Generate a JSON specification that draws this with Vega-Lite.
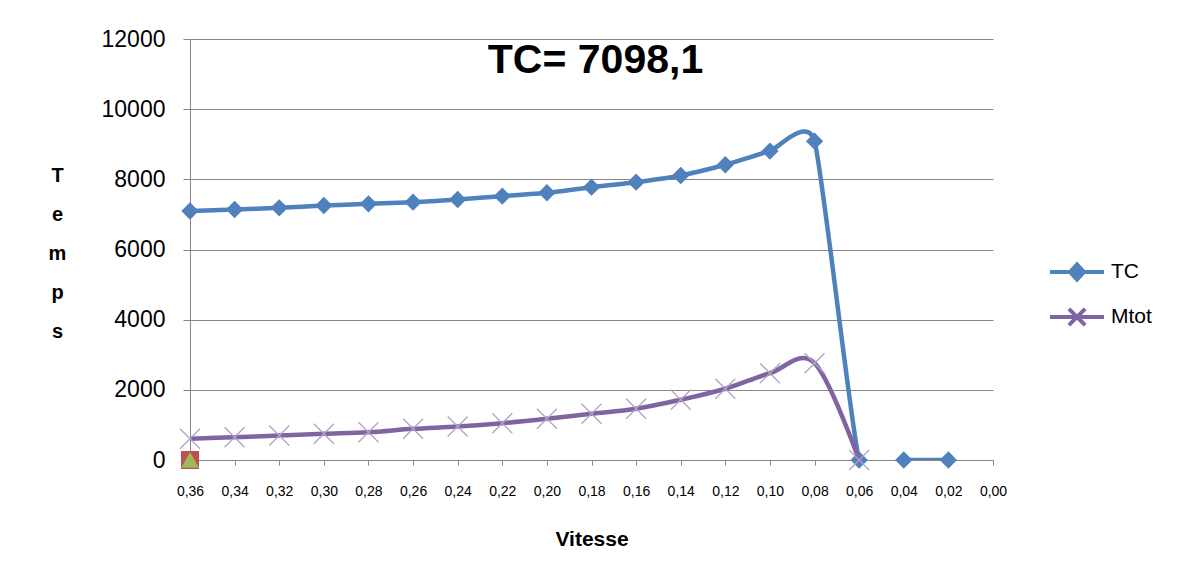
{
  "$schema": "https://vega.github.io/schema/vega-lite/v6.json",
  "width": 803,
  "height": 421,
  "autosize": {"type": "none"},
  "padding": {"left": 190, "top": 39, "right": 188, "bottom": 120},
  "background": "white",
  "config": {
    "view": {"stroke": null},
    "font": "Liberation Sans"
  },
  "title": {
    "text": "TC= 7098,1",
    "fontSize": 41,
    "fontWeight": "bold",
    "color": "#000000",
    "anchor": "middle",
    "frame": "group",
    "baseline": "alphabetic",
    "offset": -86,
    "dx": 4
  },
  "datasets": {
    "main": [
      {"v": "0,36", "s": "TC", "y": 7098.1},
      {"v": "0,34", "s": "TC", "y": 7141},
      {"v": "0,32", "s": "TC", "y": 7188},
      {"v": "0,30", "s": "TC", "y": 7254},
      {"v": "0,28", "s": "TC", "y": 7302},
      {"v": "0,26", "s": "TC", "y": 7348},
      {"v": "0,24", "s": "TC", "y": 7425},
      {"v": "0,22", "s": "TC", "y": 7520},
      {"v": "0,20", "s": "TC", "y": 7617},
      {"v": "0,18", "s": "TC", "y": 7777},
      {"v": "0,16", "s": "TC", "y": 7919},
      {"v": "0,14", "s": "TC", "y": 8110},
      {"v": "0,12", "s": "TC", "y": 8415},
      {"v": "0,10", "s": "TC", "y": 8805},
      {"v": "0,08", "s": "TC", "y": 9088},
      {"v": "0,06", "s": "TC", "y": 0},
      {"v": "0,04", "s": "TC", "y": 0},
      {"v": "0,02", "s": "TC", "y": 0},
      {"v": "0,36", "s": "Mtot", "y": 604},
      {"v": "0,34", "s": "Mtot", "y": 650},
      {"v": "0,32", "s": "Mtot", "y": 698},
      {"v": "0,30", "s": "Mtot", "y": 747},
      {"v": "0,28", "s": "Mtot", "y": 792},
      {"v": "0,26", "s": "Mtot", "y": 889},
      {"v": "0,24", "s": "Mtot", "y": 955},
      {"v": "0,22", "s": "Mtot", "y": 1049},
      {"v": "0,20", "s": "Mtot", "y": 1174},
      {"v": "0,18", "s": "Mtot", "y": 1317},
      {"v": "0,16", "s": "Mtot", "y": 1460},
      {"v": "0,14", "s": "Mtot", "y": 1716},
      {"v": "0,12", "s": "Mtot", "y": 2030},
      {"v": "0,10", "s": "Mtot", "y": 2474},
      {"v": "0,08", "s": "Mtot", "y": 2759},
      {"v": "0,06", "s": "Mtot", "y": 0},
      {"v": "0,36", "s": "S3", "y": 0},
      {"v": "0,36", "s": "S4", "y": 0}
    ]
  },
  "data": {"name": "main"},
  "encoding": {
    "x": {
      "field": "v",
      "type": "ordinal",
      "scale": {
        "type": "point",
        "padding": 0,
        "domain": ["0,36","0,34","0,32","0,30","0,28","0,26","0,24","0,22","0,20","0,18","0,16","0,14","0,12","0,10","0,08","0,06","0,04","0,02","0,00"]
      },
      "axis": {
        "title": "Vitesse",
        "titleFontSize": 21,
        "titleFontWeight": "bold",
        "titleColor": "#000000",
        "titlePadding": 30,
        "labelAngle": 0,
        "labelFontSize": 14,
        "labelColor": "#000000",
        "labelPadding": 19,
        "tickSize": 5,
        "tickColor": "#868686",
        "domainColor": "#868686",
        "grid": false
      }
    },
    "y": {
      "field": "y",
      "type": "quantitative",
      "scale": {"domain": [0, 12000], "nice": false, "zero": true},
      "axis": {
        "values": [0, 2000, 4000, 6000, 8000, 10000, 12000],
        "format": "d",
        "labelFontSize": 23,
        "labelColor": "#000000",
        "labelPadding": 18,
        "tickSize": 7,
        "tickColor": "#868686",
        "domainColor": "#868686",
        "gridColor": "#868686",
        "gridWidth": 1,
        "title": ["T", "e", "m", "p", "s"],
        "titleAngle": 0,
        "titleFontSize": 20,
        "titleFontWeight": "bold",
        "titleColor": "#000000",
        "titleLineHeight": 39,
        "titleAlign": "center",
        "titleBaseline": "top",
        "titleX": -133,
        "titleY": 126
      }
    }
  },
  "layer": [
    {
      "transform": [{"filter": "datum.s === 'TC'"}],
      "mark": {"type": "line", "interpolate": "cardinal", "tension": 0.5, "strokeWidth": 4.5, "clip": true},
      "encoding": {
        "color": {
          "field": "s",
          "type": "nominal",
          "scale": {"domain": ["TC", "Mtot"], "range": ["#4F81BD", "#8064A2"]},
          "legend": {
            "title": null,
            "orient": "none",
            "legendX": 858,
            "legendY": 204,
            "padding": 0,
            "rowPadding": 0,
            "symbolSize": 2916,
            "symbolStrokeWidth": 4,
            "labelFontSize": 21,
            "labelColor": "#000000",
            "labelOffset": 5,
            "encode": {
              "symbols": {
                "update": {
                  "shape": {"signal": "datum.value === 'TC' ? 'M-1,0L1,0M-0.26,0L0,-0.28L0.26,0L0,0.28Z' : 'M-1,0L1,0M-0.3,-0.3L0.3,0.3M-0.3,0.3L0.3,-0.3'"},
                  "fill": {"signal": "datum.value === 'TC' ? '#4F81BD' : 'transparent'"},
                  "opacity": {"value": 1}
                }
              }
            }
          }
        }
      }
    },
    {
      "transform": [{"filter": "datum.s === 'TC'"}],
      "mark": {"type": "point", "shape": "diamond", "filled": true, "size": 300, "color": "#4F81BD", "opacity": 1}
    },
    {
      "transform": [{"filter": "datum.s === 'Mtot'"}],
      "mark": {"type": "line", "interpolate": "cardinal", "strokeWidth": 4.5, "clip": true},
      "encoding": {
        "color": {"field": "s", "type": "nominal"}
      }
    },
    {
      "transform": [{"filter": "datum.s === 'Mtot'"}],
      "mark": {"type": "point", "shape": "M-1,-1L1,1M-1,1L1,-1", "filled": false, "size": 400, "stroke": "#B3A2C7", "strokeWidth": 1.3, "opacity": 1}
    },
    {
      "transform": [{"filter": "datum.s === 'S3'"}],
      "mark": {"type": "point", "shape": "square", "filled": true, "size": 324, "color": "#C0504D", "opacity": 1}
    },
    {
      "transform": [{"filter": "datum.s === 'S4'"}],
      "mark": {"type": "point", "shape": "triangle-up", "filled": true, "size": 324, "color": "#9BBB59", "opacity": 1}
    }
  ]
}
